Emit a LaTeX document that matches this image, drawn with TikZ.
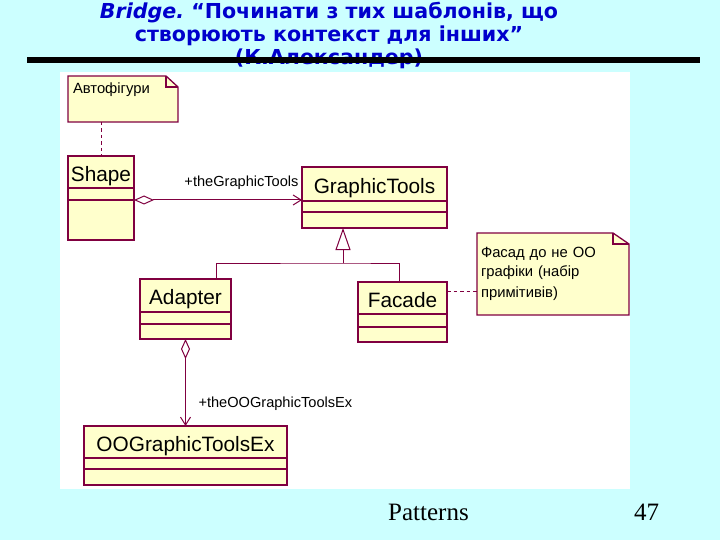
\documentclass[tikz,border=0pt]{standalone}
\usepackage{fontspec}
\newfontfamily\titlefont{DejaVu Sans}[BoldFont={DejaVu Sans Bold}, BoldItalicFont={DejaVu Sans Bold Oblique}]
\newfontfamily\umlfont{Liberation Sans}
\newfontfamily\footfont{Liberation Serif}
\usetikzlibrary{arrows.meta, positioning, calc}

\definecolor{slidebg}{RGB}{204,255,255}
\definecolor{titleblue}{RGB}{0,0,204}
\definecolor{umlline}{RGB}{128,0,64}
\definecolor{umlfill}{RGB}{255,255,204}

\tikzset{
  clsname/.style={draw=umlline, line width=1.3pt, fill=umlfill, inner sep=0pt, outer sep=0pt,
    text height=18.5pt, text depth=0pt, font=\umlfont\fontsize{20.8}{24}\selectfont},
  clspart/.style={draw=umlline, line width=1.3pt, fill=umlfill, inner sep=0pt, outer sep=0pt},
  umlnote/.style={fill=umlfill, inner xsep=5pt, inner ysep=0pt, outer sep=0pt, align=left,
    font=\umlfont\fontsize{14.8}{20}\selectfont},
  noteline/.style={draw=umlline, line width=1.3pt},
  notelink/.style={umlline, line width=0.9pt, dash pattern=on 3.5pt off 3pt},
  assoc/.style={umlline, line width=1pt,
    {Diamond[open, length=20pt, width=9pt]}-{Straight Barb[length=8pt, width=10pt]}},
  inherit/.style={umlline, line width=1pt},
  rolelbl/.style={text=black, font=\umlfont\fontsize{14.6}{17}\selectfont, inner sep=0pt}
}

\begin{document}
\begin{tikzpicture}[x=1pt, y=-1pt]
  \useasboundingbox (0,0) rectangle (720,540);
  \fill[slidebg] (0,0) rectangle (720,540);

  % slide title, bar and panel
  \node[anchor=north, inner sep=0pt, align=center, text=titleblue,
    font=\titlefont\bfseries\frenchspacing\fontsize{20.6}{23}\selectfont] (title) at (329,2)
    {{\itshape Bridge.} “Починати з тих шаблонів, що\\створюють контекст для інших”\\(К.Александер)};
  \fill[black] (27,57) rectangle (700,63);
  \fill[white] (60,72) rectangle (630,489);

  % classes
  \node[clsname, minimum width=66, minimum height=32, anchor=north west] (shape) at (68,156) {Shape};
  \node[clspart, minimum width=66, minimum height=12, below=0pt of shape] (shapeatt) {};
  \node[clspart, minimum width=66, minimum height=40, below=0pt of shapeatt] (shapeop) {};

  \node[clsname, minimum width=145, minimum height=34, anchor=north west] (gt) at (302,167) {GraphicTools};
  \node[clspart, minimum width=145, minimum height=11, below=0pt of gt] (gtatt) {};
  \node[clspart, minimum width=145, minimum height=16, below=0pt of gtatt] (gtop) {};

  \node[clsname, minimum width=91, minimum height=33, anchor=north west] (adp) at (140,279) {Adapter};
  \node[clspart, minimum width=91, minimum height=12, below=0pt of adp] (adpatt) {};
  \node[clspart, minimum width=91, minimum height=15, below=0pt of adpatt] (adpop) {};

  \node[clsname, minimum width=89, minimum height=32, anchor=north west] (fac) at (358,282) {Facade};
  \node[clspart, minimum width=89, minimum height=13, below=0pt of fac] (facatt) {};
  \node[clspart, minimum width=89, minimum height=15, below=0pt of facatt] (facop) {};

  \node[clsname, minimum width=203, minimum height=32, anchor=north west] (oog) at (84,426) {OOGraphicToolsEx};
  \node[clspart, minimum width=203, minimum height=11, below=0pt of oog] (oogatt) {};
  \node[clspart, minimum width=203, minimum height=16, below=0pt of oogatt] (oogop) {};

  % notes
  \node[umlnote, text width=100, text height=18, text depth=28, anchor=north west] (autofig) at (68,76) {Автофігури};
  \fill[white] ([xshift=-12pt]autofig.north east) -- (autofig.north east) -- ([yshift=-11pt]autofig.north east) -- cycle;
  \draw[noteline] (autofig.north west) -- ([xshift=-12pt]autofig.north east) -- ([yshift=-11pt]autofig.north east)
    -- (autofig.south east) -- (autofig.south west) -- cycle;
  \draw[noteline] ([xshift=-12pt]autofig.north east) -- ([xshift=-12pt, yshift=-11pt]autofig.north east)
    -- ([yshift=-11pt]autofig.north east);

  \node[umlnote, inner xsep=4pt, text width=144, text height=24, text depth=58, anchor=north west] (facnote) at (477,233)
    {Фасад до не ОО\\графіки (набір\\примітивів)};
  \fill[white] ([xshift=-16pt]facnote.north east) -- (facnote.north east) -- ([yshift=-11pt]facnote.north east) -- cycle;
  \draw[noteline] (facnote.north west) -- ([xshift=-16pt]facnote.north east) -- ([yshift=-11pt]facnote.north east)
    -- (facnote.south east) -- (facnote.south west) -- cycle;
  \draw[noteline] ([xshift=-16pt]facnote.north east) -- ([xshift=-16pt, yshift=-11pt]facnote.north east)
    -- ([yshift=-11pt]facnote.north east);

  % connectors
  \draw[notelink] (autofig.south -| shape.north) -- (shape.north);
  \draw[notelink] ([yshift=7pt]fac.east) -- ([yshift=7pt]fac.east -| facnote.west);

  \draw[assoc] (shapeatt.south east) -- (shapeatt.south east -| gt.west)
    node[rolelbl, pos=1, anchor=base east, xshift=-3pt, yshift=13pt] {+theGraphicTools};
  \draw[assoc] (adpop.south) -- (oog.north)
    node[rolelbl, pos=1, anchor=base west, xshift=12.5pt, yshift=19pt] {+theOOGraphicToolsEx};

  \coordinate (fork) at (343,263);
  \draw[inherit] ([xshift=30.5pt]adp.north) |- (fork) -| ([xshift=-3.5pt]fac.north);
  \draw[inherit, -{Triangle[open, length=22pt, width=15pt]}] (fork) -- (fork |- gtop.south);

  % footer
  \node[font=\footfont\fontsize{25}{30}\selectfont, anchor=base west, inner sep=0pt] (footer) at (388,520) {Patterns};
  \node[font=\footfont\fontsize{25}{30}\selectfont, anchor=base west, inner sep=0pt] (pageno) at (634,520) {47};
\end{tikzpicture}
\end{document}
